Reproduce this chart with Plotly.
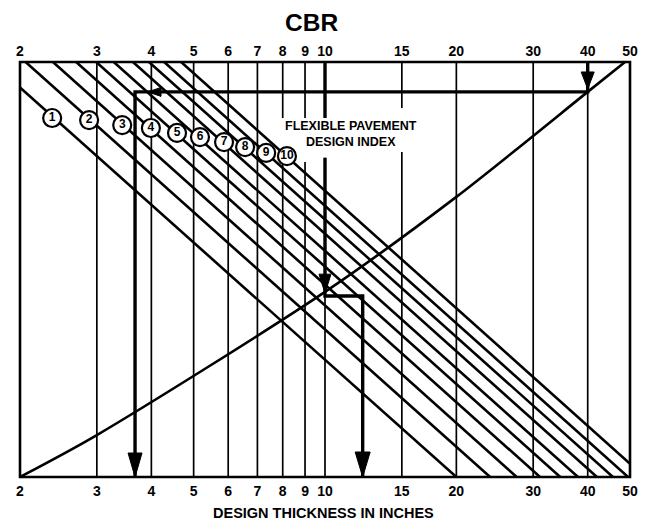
import math
import plotly.graph_objects as go

# ---------------- data ----------------
X_MIN, X_MAX = 2, 50
tick_vals = [2, 3, 4, 5, 6, 7, 8, 9, 10, 15, 20, 30, 40, 50]
tick_text = [str(v) for v in tick_vals]

grid_vals = [3, 4, 5, 6, 7, 8, 9, 10, 15, 20, 30, 40]
# gridlines interrupted by the "FLEXIBLE PAVEMENT DESIGN INDEX" label (y fraction of frame)
gap_lo = {8: 0.757, 9: 0.759, 10: 0.769, 15: 0.783}
gap_hi = {8: 0.865, 9: 0.865, 10: 0.865, 15: 0.889}

# design index lines: thickness where each line meets the top edge and the bottom edge
design_index = [1, 2, 3, 4, 5, 6, 7, 8, 9, 10]
di_top_x = [1.72, 2.06, 2.38, 2.69, 2.99, 3.28, 3.63, 3.95, 4.28, 4.68]
di_bot_x = [20.0, 23.9, 27.5, 31.1, 34.6, 38.0, 42.0, 45.7, 49.5, 54.1]
# circled label positions
label_x = [2.37, 2.88, 3.43, 3.99, 4.58, 5.17, 5.87, 6.56, 7.33, 8.18]
label_y = [0.865, 0.860, 0.848, 0.841, 0.829, 0.819, 0.807, 0.795, 0.781, 0.773]

# CBR turning curve
cbr_x = [2, 3, 10, 20, 40, 48.7]
cbr_y = [0.0, 0.101, 0.446, 0.675, 0.928, 1.0]

# worked examples
ex_a_x = [40, 40, 3.67, 3.67]
ex_a_y = [1.0, 0.928, 0.928, 0.0]
ex_b_top_x = [10, 10]
ex_b_top_y = [1.0, 0.865]
ex_b_x = [10, 10, 12.2, 12.2]
ex_b_y = [0.769, 0.436, 0.436, 0.0]

# arrow heads: tip position, direction
head_x = [40, 3.93, 3.67, 10, 12.2]
head_y = [0.935, 0.928, 0.0, 0.443, 0.0]
head_dir = ["down", "left", "down", "down", "down"]
head_len = [17, 13, 24, 19, 25]
head_wid = [13, 9, 14, 12, 15]

# ---------------- geometry helpers ----------------
BODY = 8  # default page margin of the html body
W, H = 649 - BODY, 522 - BODY
ML, MT = 20 - BODY, 62 - BODY
PW, PH = 610, 415
MR = W - ML - PW
MB = H - MT - PH
px_per_decade = PW / (math.log10(X_MAX) - math.log10(X_MIN))


def head_poly(xv, yv, d, L, Wd):
    def off(dx, dy):
        return xv * 10 ** (dx / px_per_decade), yv + dy / PH
    if d == "down":
        pts = [off(0, 0), off(-Wd / 2, L), off(Wd / 2, L)]
    elif d == "up":
        pts = [off(0, 0), off(-Wd / 2, -L), off(Wd / 2, -L)]
    elif d == "left":
        pts = [off(0, 0), off(L, Wd / 2), off(L, -Wd / 2)]
    else:
        pts = [off(0, 0), off(-L, Wd / 2), off(-L, -Wd / 2)]
    pts.append(pts[0])
    return [p[0] for p in pts], [p[1] for p in pts]


fig = go.Figure()

# vertical grid lines
gx, gy = [], []
for v in grid_vals:
    if v in gap_lo:
        gx += [v, v, None, v, v, None]
        gy += [0, gap_lo[v], None, gap_hi[v], 1, None]
    else:
        gx += [v, v, None]
        gy += [0, 1, None]
fig.add_trace(go.Scatter(x=gx, y=gy, mode="lines", line=dict(color="black", width=1.7),
                         hoverinfo="skip", showlegend=False))

# design index lines
for k, (t, b) in enumerate(zip(di_top_x, di_bot_x)):
    fig.add_trace(go.Scatter(x=[t, b], y=[1, 0], mode="lines",
                             line=dict(color="black", width=2.6),
                             hoverinfo="skip", showlegend=False))

# CBR curve (on top axis)
fig.add_trace(go.Scatter(x=cbr_x, y=cbr_y, xaxis="x2", mode="lines",
                         line=dict(color="black", width=2.6, shape="spline", smoothing=0.8),
                         hoverinfo="skip", showlegend=False))

# worked examples
for xs, ys in [(ex_a_x, ex_a_y), (ex_b_top_x, ex_b_top_y), (ex_b_x, ex_b_y)]:
    fig.add_trace(go.Scatter(x=xs, y=ys, mode="lines", line=dict(color="black", width=3.4),
                             hoverinfo="skip", showlegend=False))

for xv, yv, d, L, Wd in zip(head_x, head_y, head_dir, head_len, head_wid):
    hx, hy = head_poly(xv, yv, d, L, Wd)
    fig.add_trace(go.Scatter(x=hx, y=hy, mode="lines", fill="toself", fillcolor="black",
                             line=dict(color="black", width=1), hoverinfo="skip",
                             showlegend=False))

# circled design index numbers
fig.add_trace(go.Scatter(x=label_x, y=label_y, mode="markers+text",
                         marker=dict(symbol="circle", size=18, color="white",
                                     line=dict(color="black", width=2.2)),
                         text=["<b>%d</b>" % d for d in design_index], textposition="middle center",
                         textfont=dict(family="Liberation Sans", size=12, color="black"),
                         cliponaxis=False, hoverinfo="skip", showlegend=False))

bold_ticks = ["<b>%s</b>" % t for t in tick_text]
axis_common = dict(type="log", range=[math.log10(X_MIN), math.log10(X_MAX)],
                   tickvals=tick_vals, ticktext=bold_ticks, showgrid=False, zeroline=False,
                   ticks="", showline=False, automargin=False,
                   tickfont=dict(family="Liberation Sans", size=14, color="black"))

fig.update_layout(
    width=W, height=H,
    margin=dict(l=ML, r=MR, t=MT, b=MB),
    plot_bgcolor="white", paper_bgcolor="white",
    xaxis=dict(**axis_common, ticklabelstandoff=4),
    xaxis2=dict(**axis_common, overlaying="x", side="top", matches="x", ticklabelstandoff=2),
    yaxis=dict(range=[0, 1], visible=False, fixedrange=True, automargin=False),
    shapes=[dict(type="rect", xref="paper", yref="paper", x0=0, y0=0, x1=1, y1=1,
                 line=dict(color="black", width=2.6))],
    annotations=[
        dict(text="<b>CBR</b>", xref="paper", yref="paper", x=(311 - 20) / PW, y=1 + 39 / PH,
             xanchor="center", yanchor="middle", showarrow=False,
             font=dict(family="Liberation Sans", size=24.5, color="black")),
        dict(text="<b>DESIGN THICKNESS IN INCHES</b>", xref="paper", yref="paper",
             x=(323 - 20) / PW, y=-(513 - 477) / PH, xanchor="center", yanchor="middle",
             showarrow=False,
             font=dict(family="Liberation Sans", size=14.5, color="black")),
        dict(text="<b>FLEXIBLE PAVEMENT<br>DESIGN INDEX</b>", xref="x", yref="y",
             x=math.log10(11.5), y=0.826, xanchor="center", yanchor="middle",
             showarrow=False, align="center",
             font=dict(family="Liberation Sans", size=12.5, color="black")),
    ],
)

fig.write_html("out.html")
